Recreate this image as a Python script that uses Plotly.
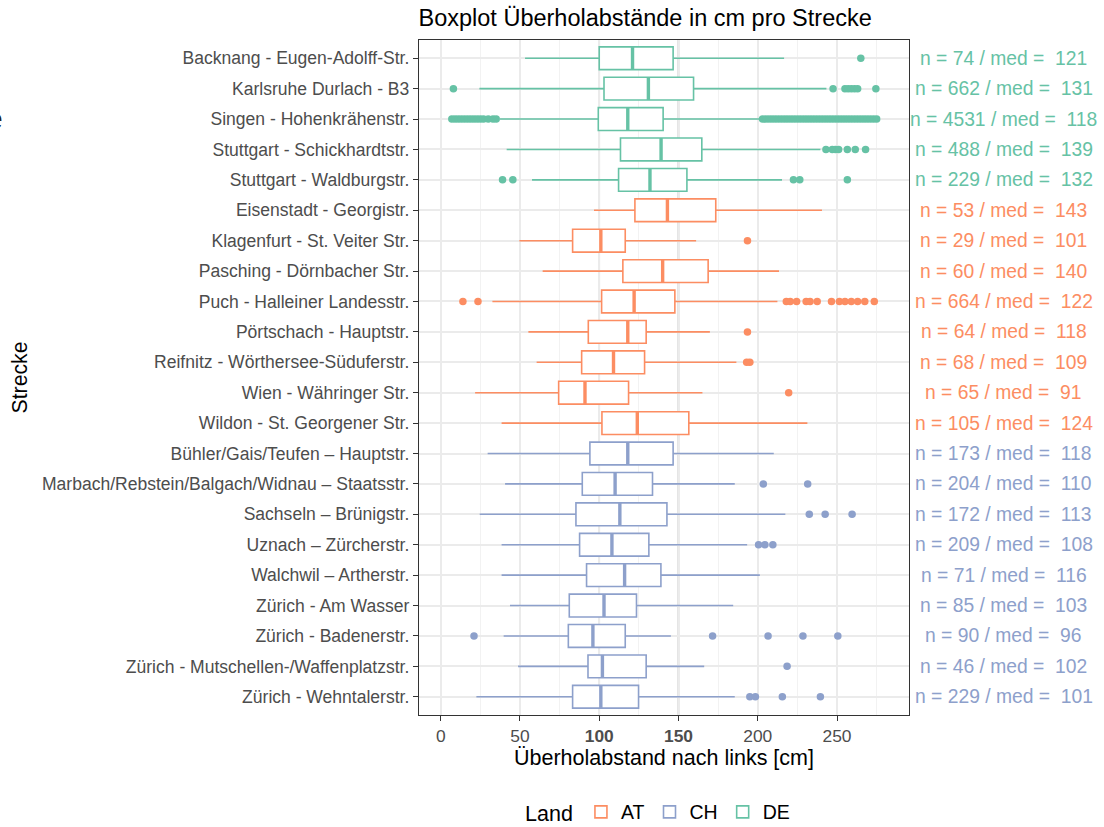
import plotly.graph_objects as go

# Routes from top to bottom, with their country
routes = [
    "Backnang - Eugen-Adolff-Str.",
    "Karlsruhe Durlach - B3",
    "Singen - Hohenkrähenstr.",
    "Stuttgart - Schickhardtstr.",
    "Stuttgart - Waldburgstr.",
    "Eisenstadt - Georgistr.",
    "Klagenfurt - St. Veiter Str.",
    "Pasching - Dörnbacher Str.",
    "Puch - Halleiner Landesstr.",
    "Pörtschach - Hauptstr.",
    "Reifnitz - Wörthersee-Süduferstr.",
    "Wien - Währinger Str.",
    "Wildon - St. Georgener Str.",
    "Bühler/Gais/Teufen – Hauptstr.",
    "Marbach/Rebstein/Balgach/Widnau – Staatsstr.",
    "Sachseln – Brünigstr.",
    "Uznach – Zürcherstr.",
    "Walchwil – Artherstr.",
    "Zürich - Am Wasser",
    "Zürich - Badenerstr.",
    "Zürich - Mutschellen-/Waffenplatzstr.",
    "Zürich - Wehntalerstr.",
]
country = ["DE"] * 5 + ["AT"] * 8 + ["CH"] * 9

n_obs = [74, 662, 4531, 488, 229, 53, 29, 60, 664, 64, 68, 65, 105,
         173, 204, 172, 209, 71, 85, 90, 46, 229]
median = [121, 131, 118, 139, 132, 143, 101, 140, 122, 118, 109, 91, 124,
          118, 110, 113, 108, 116, 103, 96, 102, 101]
q1 = [100.0, 103.0, 99.4, 113.4, 112.2, 122.5, 83.2, 114.9, 101.5, 93.1, 88.9,
      74.4, 101.7, 94.1, 89.3, 85.3, 87.6, 92.0, 81.1, 80.5, 92.9, 83.2]
q3 = [146.6, 159.5, 140.3, 164.7, 155.3, 173.5, 116.4, 168.7, 147.7, 129.6, 128.6,
      118.5, 156.5, 146.6, 133.6, 142.7, 131.3, 138.9, 123.5, 116.4, 129.6, 124.8]
whisker_lo = [53.2, 24.4, 37.4, 41.6, 57.6, 96.7, 49.6, 64.3, 32.6, 55.3, 60.5,
              21.7, 38.4, 29.6, 40.6, 24.6, 38.4, 38.4, 43.7, 39.7, 48.8, 22.5]
whisker_hi = [216.6, 243.3, 202.3, 239.5, 215.3, 240.5, 161.1, 213.4, 212.4, 169.8, 186.5,
              165.1, 231.3, 210.1, 185.5, 217.4, 193.3, 201.3, 184.5, 145.2, 166.2, 185.5]

outliers = [
    [265],
    [8, 247.5, 255, 257, 259, 261, 263, 274.5],
    [7, 9, 11, 13, 15, 17, 19, 21, 23, 25, 27, 30, 33, 35,
     203, 205, 207, 209, 211, 213, 215, 217, 219, 221, 223, 225, 227, 229, 231,
     233, 235, 237, 239, 241, 243, 245, 247, 249, 251, 253, 255, 257, 259, 261,
     263, 265, 267, 269, 271, 273, 275],
    [243, 247, 249, 251, 256.5, 261.5, 268],
    [39, 45.5, 222.5, 226.5, 256.5],
    [],
    [193.5],
    [],
    [14, 23.5, 218, 220.5, 224.5, 230.5, 233, 237.5, 246.5, 251.5, 255, 259, 263, 267.5, 273.5],
    [193.5],
    [193, 195],
    [219.5],
    [],
    [],
    [203.5, 231.5],
    [232.5, 242.5, 259.5],
    [200.5, 204.5, 209.5],
    [],
    [],
    [21, 171.5, 206.5, 228.5, 250.5],
    [218.5],
    [195, 198.5, 215.5, 239.5],
]

colors = {"AT": "#FC8D62", "CH": "#8DA0CB", "DE": "#66C2A5"}
font_family = "Liberation Sans, Arial, sans-serif"
box_width = 0.75

positions = list(range(1, len(routes) + 1))

fig = go.Figure()

for land in ["AT", "CH", "DE"]:
    idx = [i for i, c in enumerate(country) if c == land]
    col = colors[land]
    fig.add_trace(go.Box(
        y=[positions[i] for i in idx],
        q1=[q1[i] for i in idx],
        median=[median[i] for i in idx],
        q3=[q3[i] for i in idx],
        lowerfence=[whisker_lo[i] for i in idx],
        upperfence=[whisker_hi[i] for i in idx],
        orientation="h",
        width=box_width,
        whiskerwidth=0,
        fillcolor="white",
        line=dict(color=col, width=1.6),
        name=land,
        legendgroup=land,
        hoverinfo="skip",
    ))
    # thicker median bars
    mx, my = [], []
    for i in idx:
        mx += [median[i], median[i], None]
        my += [positions[i] - box_width / 2, positions[i] + box_width / 2, None]
    fig.add_trace(go.Scatter(
        x=mx, y=my, mode="lines",
        line=dict(color=col, width=3.4),
        showlegend=False, legendgroup=land, hoverinfo="skip",
    ))
    # outlying points
    ox, oy = [], []
    for i in idx:
        ox += outliers[i]
        oy += [positions[i]] * len(outliers[i])
    fig.add_trace(go.Scatter(
        x=ox, y=oy, mode="markers",
        marker=dict(color=col, size=7.5, line=dict(width=0)),
        showlegend=False, legendgroup=land, hoverinfo="skip",
    ))

# reference lines at 100 cm and 150 cm
for ref in [100, 150]:
    fig.add_shape(type="line", xref="x", yref="paper", x0=ref, x1=ref, y0=0, y1=1,
                  line=dict(color="#A8A8A8", width=1.6), layer="below")

# n / median labels right of the panel
for i, route in enumerate(routes):
    fig.add_annotation(
        x=1.1937, xref="paper", y=positions[i], yref="y",
        text=f"n = {n_obs[i]} / med =\u00a0\u00a0{median[i]}",
        showarrow=False, xanchor="center", yanchor="middle",
        font=dict(family=font_family, size=19.3, color=colors[country[i]]),
    )

fig.add_annotation(
    x=-0.844, xref="paper", y=0.883, yref="paper",
    text="e", showarrow=False, xanchor="right", yanchor="middle",
    font=dict(family=font_family, size=30, color="#222222"),
)

fig.update_layout(
    width=1104, height=827,
    margin=dict(l=418.5, r=195, t=39.5, b=112, autoexpand=False),
    paper_bgcolor="white", plot_bgcolor="white",
    font=dict(family=font_family, color="#000000"),
    title=dict(
        text="Boxplot Überholabstände in cm pro Strecke",
        x=418.5 / 1104, xanchor="left", xref="container",
        y=1 - 18 / 827, yanchor="middle", yref="container",
        font=dict(size=23.5, color="#000000"),
    ),
    xaxis=dict(
        range=[-13.7, 295.4],
        tickvals=[0, 50, 100, 150, 200, 250],
        ticktext=["0", "50", "<b>100</b>", "<b>150</b>", "200", "250"],
        tickfont=dict(size=17.4, color="#4D4D4D"),
        ticks="outside", ticklen=5, tickwidth=1.1, tickcolor="#333333",
        showgrid=True, gridcolor="#EBEBEB", gridwidth=1.5,
        minor=dict(tickvals=[25, 75, 125, 175, 225, 275], showgrid=True,
                   gridcolor="#F2F2F2", gridwidth=1.2),
        showline=True, mirror=True, linecolor="#333333", linewidth=1.3,
        zeroline=False,
        title=dict(text="Überholabstand nach links [cm]",
                   font=dict(size=21.5, color="#000000"), standoff=4),
    ),
    yaxis=dict(
        range=[22.6, 0.4],
        tickvals=positions, ticktext=routes,
        tickfont=dict(size=17.55, color="#4D4D4D"),
        ticks="outside", ticklen=5, tickwidth=1.1, tickcolor="#333333",
        showgrid=True, gridcolor="#EBEBEB", gridwidth=1.5,
        showline=True, mirror=True, linecolor="#333333", linewidth=1.3,
        zeroline=False,
        title=dict(text="Strecke", font=dict(size=21.2, color="#000000"), standoff=8),
    ),
    showlegend=True,
    legend=dict(
        orientation="h", x=0.49, xanchor="center", y=-0.144, yanchor="middle",
        title=dict(text="Land", side="left", font=dict(size=21.5, color="#000000")),
        font=dict(size=19.5, color="#000000"),
        traceorder="normal",
    ),
)

fig.write_html("out.html")
